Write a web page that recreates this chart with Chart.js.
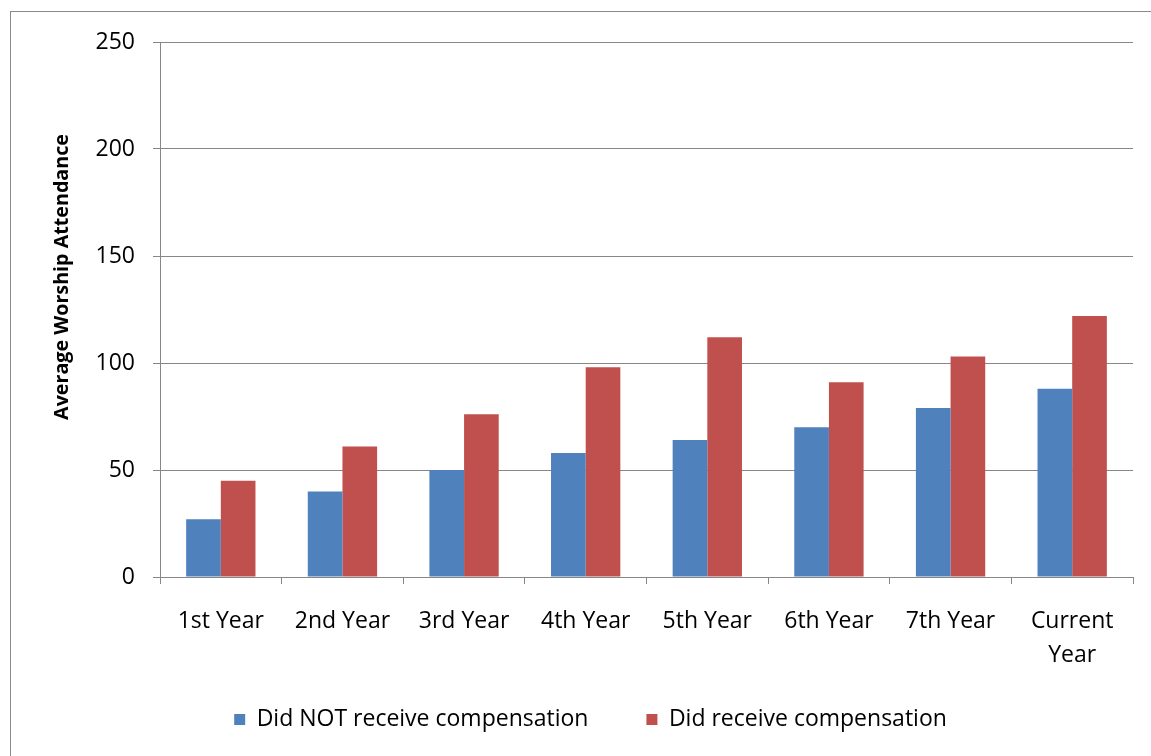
<!DOCTYPE html>
<html>
<head>
<meta charset="utf-8">
<script src="https://cdn.jsdelivr.net/npm/chart.js@4/dist/chart.umd.min.js"></script>
<style>
  html, body { margin: 0; padding: 0; background: #fff; }
  #wrap { position: relative; width: 1151px; height: 756px; overflow: hidden; }
  #frame { position: absolute; left: 10px; top: 11px; width: 1200px; height: 800px; border: 1px solid #8a8a8a; box-sizing: border-box; }
  #c { position: absolute; left: 0; top: 0; }
</style>
</head>
<body>
<div id="wrap">
  <div id="frame"></div>
  <canvas id="c" width="1151" height="756"></canvas>
</div>
<script>
const categories = ['1st Year', '2nd Year', '3rd Year', '4th Year', '5th Year', '6th Year', '7th Year', ['Current', 'Year']];
const notCompensated = [27, 40, 50, 58, 64, 70, 79, 88];
const compensated = [45, 61, 76, 98, 112, 91, 103, 122];
const seriesNames = ['Did NOT receive compensation', 'Did receive compensation'];
const yTicks = [0, 50, 100, 150, 200, 250];
const yTitle = 'Average Worship Attendance';

const FONT = "'Open Sans', sans-serif";
const GRAY = '#878787';

const yTitlePlugin = {
  id: 'yTitle',
  afterLayout(chart) {
    // let the two-line category label draw fully below the axis box
    chart.scales.x.bottom += 40;
  },
  afterDraw(chart) {
    const ctx = chart.ctx;
    ctx.save();
    ctx.font = "bold 19.7px " + FONT;
    ctx.fillStyle = '#000';
    ctx.textAlign = 'center';
    ctx.textBaseline = 'middle';
    ctx.translate(62, 277);
    ctx.rotate(-Math.PI / 2);
    ctx.fillText(yTitle, 0, 0);
    ctx.restore();
  }
};

new Chart(document.getElementById('c'), {
  type: 'bar',
  data: {
    labels: categories,
    datasets: [
      { label: seriesNames[0], data: notCompensated, backgroundColor: '#4F81BD', borderWidth: 0 },
      { label: seriesNames[1], data: compensated, backgroundColor: '#C0504D', borderWidth: 0 }
    ]
  },
  options: {
    responsive: false,
    animation: false,
    devicePixelRatio: 1,
    layout: { padding: { left: 48, top: 42, right: 18, bottom: 15 } },
    categoryPercentage: 0.57,
    barPercentage: 1.0,
    plugins: {
      legend: {
        position: 'bottom',
        labels: {
          font: { family: FONT, size: 23 },
          color: '#000',
          boxWidth: 11,
          boxHeight: 11,
          padding: 58
        }
      },
      tooltip: { enabled: false },
      title: { display: false }
    },
    scales: {
      x: {
        grid: { drawOnChartArea: false, color: GRAY, tickLength: 7, offset: true },
        border: { display: true, color: GRAY, width: 1 },
        ticks: { font: { family: FONT, size: 23, lineHeight: 1.45 }, color: '#000', padding: 21, maxRotation: 0, autoSkip: false },
        afterFit(scale) { scale.height = 73; }
      },
      y: {
        min: 0, max: 250,
        afterBuildTicks(scale) { scale.ticks = yTicks.map(v => ({ value: v })); },
        grid: { color: GRAY, tickLength: 7 },
        border: { display: true, color: GRAY, width: 1 },
        ticks: { font: { family: FONT, size: 23 }, color: '#000', padding: 18 },
        afterFit(scale) { scale.width = 112; }
      }
    }
  },
  plugins: [yTitlePlugin]
});
</script>
</body>
</html>
